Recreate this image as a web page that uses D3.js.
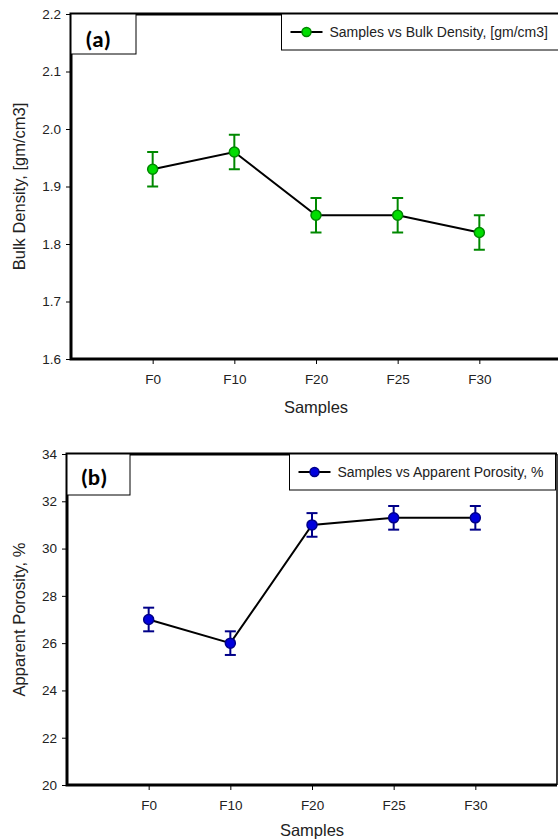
<!DOCTYPE html>
<html>
<head>
<meta charset="utf-8">
<script src="https://cdn.jsdelivr.net/npm/d3@7"></script>
<style>
  body { margin: 0; background: #fff; }
  svg { display: block; font-family: Arial, "Liberation Sans", sans-serif; }
</style>
</head>
<body>
<div id="myDiv"></div>
<script>
var samples = ["F0", "F10", "F20", "F25", "F30"];

var bulk_values = [1.93, 1.96, 1.85, 1.85, 1.82];
var bulk_errors = [0.03, 0.03, 0.03, 0.03, 0.03];
var bulk_ticks = [1.6, 1.7, 1.8, 1.9, 2.0, 2.1, 2.2];

var porosity_values = [27, 26, 31, 31.3, 31.3];
var porosity_errors = [0.5, 0.5, 0.5, 0.5, 0.5];
var porosity_ticks = [20, 22, 24, 26, 28, 30, 32, 34];

var width = 558, height = 840;

var svg = d3.select("#myDiv").append("svg").attr("width", width).attr("height", height);

function drawPanel(opt) {
    var x = d3.scaleLinear().domain([0, 6]).range([opt.left, opt.right]);
    var y = d3.scaleLinear().domain(opt.ydomain).range([opt.bottom, opt.top]);
    var g = svg.append("g");

    // right border (thin)
    if (opt.rightBorder) {
        g.append("line").attr("x1", opt.right).attr("x2", opt.right)
            .attr("y1", opt.top).attr("y2", opt.bottom)
            .attr("stroke", "#000").attr("stroke-width", 1.5);
    }

    // axes
    var yAxis = d3.axisLeft(y).tickValues(opt.yticks).tickSize(5).tickPadding(5)
        .tickFormat(opt.yfmt);
    var ya = g.append("g").attr("transform", "translate(" + opt.left + ",0)").call(yAxis);
    var xAxis = d3.axisBottom(x).tickValues([1, 2, 3, 4, 5]).tickSize(5).tickPadding(10)
        .tickFormat(function(d) { return samples[d - 1]; });
    var xa = g.append("g").attr("transform", "translate(0," + opt.bottom + ")").call(xAxis);
    [ya, xa].forEach(function(a) {
        a.select(".domain").remove();
        a.selectAll("line").attr("stroke", "#000").attr("stroke-width", 1);
        a.selectAll("text").attr("fill", "#222").style("font-size", "13.5px");
    });

    // frame: top, left, bottom thick
    g.append("path")
        .attr("d", "M" + opt.right + "," + opt.top + "H" + opt.left + "V" + opt.bottom + "H" + opt.right)
        .attr("fill", "none").attr("stroke", "#000").attr("stroke-width", 3);

    // panel label box
    g.append("rect").attr("x", opt.left).attr("y", opt.top)
        .attr("width", opt.labelW).attr("height", opt.labelH)
        .attr("fill", "#fff").attr("stroke", "#000").attr("stroke-width", 1);
    g.append("text").attr("x", opt.left + opt.labelTx).attr("y", opt.top + opt.labelTy)
        .attr("text-anchor", "middle").style("font-size", "23px").style("font-weight", "bold")
        .style("font-family", "Calibri, Carlito, 'Open Sans', Arial, sans-serif")
        .text(opt.label);

    // legend
    g.append("rect").attr("x", opt.legX).attr("y", opt.top)
        .attr("width", opt.legW).attr("height", opt.legH)
        .attr("fill", "#fff").attr("stroke", "#000").attr("stroke-width", 1);
    var ly = opt.top + opt.legH / 2;
    g.append("line").attr("x1", opt.legX + 9).attr("x2", opt.legX + 41)
        .attr("y1", ly).attr("y2", ly).attr("stroke", "#000").attr("stroke-width", 2);
    g.append("circle").attr("cx", opt.legX + 25).attr("cy", ly).attr("r", 4.5)
        .attr("fill", opt.fill).attr("stroke", opt.stroke).attr("stroke-width", 1.5);
    g.append("text").attr("x", opt.legX + 48).attr("y", ly + 5)
        .style("font-size", "14px").attr("fill", "#222").text(opt.legText);

    // axis titles
    g.append("text").attr("transform", "translate(" + opt.ytitleX + "," + ((opt.top + opt.bottom) / 2) + ") rotate(-90)")
        .attr("text-anchor", "middle").style("font-size", "16.5px").attr("fill", "#222").text(opt.ytitle);
    g.append("text").attr("x", x(3)).attr("y", opt.xtitleY)
        .attr("text-anchor", "middle").style("font-size", "16.5px").attr("fill", "#222").text("Samples");

    var pts = opt.values.map(function(v, i) { return { x: i + 1, y: v, e: opt.errors[i] }; });

    // line
    g.append("path").datum(pts)
        .attr("d", d3.line().x(function(d) { return x(d.x); }).y(function(d) { return y(d.y); }))
        .attr("fill", "none").attr("stroke", "#000").attr("stroke-width", 2);

    // error bars
    var eb = g.selectAll(".err").data(pts).enter().append("g").attr("class", "err")
        .attr("stroke", opt.stroke).attr("stroke-width", 2);
    eb.append("line").attr("x1", function(d) { return x(d.x); }).attr("x2", function(d) { return x(d.x); })
        .attr("y1", function(d) { return y(d.y - d.e); }).attr("y2", function(d) { return y(d.y + d.e); });
    eb.append("line").attr("x1", function(d) { return x(d.x) - 5.5; }).attr("x2", function(d) { return x(d.x) + 5.5; })
        .attr("y1", function(d) { return y(d.y + d.e); }).attr("y2", function(d) { return y(d.y + d.e); });
    eb.append("line").attr("x1", function(d) { return x(d.x) - 5.5; }).attr("x2", function(d) { return x(d.x) + 5.5; })
        .attr("y1", function(d) { return y(d.y - d.e); }).attr("y2", function(d) { return y(d.y - d.e); });

    // markers
    g.selectAll(".pt").data(pts).enter().append("circle").attr("class", "pt")
        .attr("cx", function(d) { return x(d.x); }).attr("cy", function(d) { return y(d.y); })
        .attr("r", 5).attr("fill", opt.fill).attr("stroke", opt.stroke).attr("stroke-width", 1.5);
}

drawPanel({
    left: 71, right: 561, top: 14, bottom: 359,
    ydomain: [1.6, 2.2], yticks: bulk_ticks, yfmt: d3.format(".1f"),
    values: bulk_values, errors: bulk_errors,
    fill: "#00dd00", stroke: "#008800",
    label: "(a)", labelW: 65, labelH: 40, labelTx: 27, labelTy: 33,
    legX: 281.5, legW: 290, legH: 36,
    legText: "Samples vs Bulk Density, [gm/cm3]",
    ytitleX: 25, xtitleY: 413,
    ytitle: "Bulk Density, [gm/cm3]",
    rightBorder: false
});

drawPanel({
    left: 67, right: 557, top: 454, bottom: 785,
    ydomain: [20, 34], yticks: porosity_ticks, yfmt: d3.format("d"),
    values: porosity_values, errors: porosity_errors,
    fill: "#0000dd", stroke: "#000088",
    label: "(b)", labelW: 63, labelH: 41, labelTx: 27, labelTy: 31,
    legX: 289.5, legW: 266, legH: 36,
    legText: "Samples vs Apparent Porosity, %",
    ytitleX: 25, xtitleY: 836,
    ytitle: "Apparent Porosity, %",
    rightBorder: true
});
</script>
</body>
</html>
